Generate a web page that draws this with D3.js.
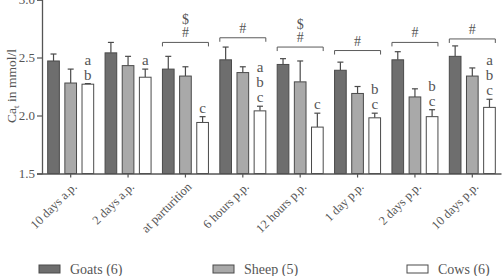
<!DOCTYPE html>
<html><head><meta charset="utf-8">
<script src="https://cdn.jsdelivr.net/npm/d3@7"></script>
<style>body{margin:0;background:#fff}svg{display:block}svg text{font-family:"Liberation Serif","Times New Roman","DejaVu Serif",serif}</style>
</head><body>
<svg id="c" width="503" height="276"></svg>
<script>
const categories = ["10 days a.p.","2 days a.p.","at parturition","6 hours p.p.","12 hours p.p.","1 day p.p.","2 days p.p.","10 days p.p."];
const seriesNames = ["Goats (6)","Sheep (5)","Cows (6)"];
const goats = [2.47,2.54,2.40,2.48,2.44,2.39,2.48,2.51];
const goatsSem = [0.06,0.09,0.11,0.11,0.05,0.07,0.07,0.09];
const sheep = [2.28,2.43,2.34,2.37,2.29,2.19,2.16,2.34];
const sheepSem = [0.12,0.08,0.08,0.05,0.18,0.06,0.07,0.07];
const cows = [2.27,2.33,1.94,2.04,1.90,1.98,1.99,2.07];
const cowsSem = [0.005,0.07,0.05,0.04,0.12,0.04,0.06,0.07];
const cowLetters = [["a","b"],["a"],["c"],["a","b","c"],["c"],["b","c"],["b","c"],["a","b","c"]];
const bracketLevel = [null,null,2.63,2.67,2.59,2.56,2.63,2.66];
const bracketMarks = [[],[],["$","#"],["#"],["$","#"],["#"],["#"],["#"]];
const yTicks = [1.5,2.0,2.5,3.0];

const svg = d3.select("#c");
const m = {l:42, r:2, t:0, b:103};
const W = 503, H = 276;
const x = d3.scaleBand().domain(categories).range([m.l, W - m.r]);
const y = d3.scaleLinear().domain([1.5,3.0]).range([173.5,-0.5]);
const inner = d3.scaleBand().domain([0,1,2]).range([-23, 23]).paddingInner(0.32).paddingOuter(0);
const fills = ["#6e6e6e","#a9a9a9","#ffffff"];
const stroke = "#4a4a4a";
const txt = "#555";
const font = "'Liberation Serif','Times New Roman',serif";

const series = [goats, sheep, cows];
const sems = [goatsSem, sheepSem, cowsSem];

const g = svg.append("g");
categories.forEach((c,i)=>{
  const cx = x(c) + x.bandwidth()/2;
  series.forEach((s,k)=>{
    const bx = cx + inner(k);
    const bw = inner.bandwidth();
    const top = y(s[i]);
    const et = y(s[i] + sems[k][i]);
    g.append("line").attr("x1",bx+bw/2).attr("x2",bx+bw/2).attr("y1",top).attr("y2",et).attr("stroke",stroke).attr("stroke-width",1.2);
    g.append("line").attr("x1",bx+bw/2-3).attr("x2",bx+bw/2+3).attr("y1",et).attr("y2",et).attr("stroke",stroke).attr("stroke-width",1.2);
    g.append("rect").attr("x",bx).attr("y",top).attr("width",bw).attr("height",y(1.5)-top)
      .attr("fill",fills[k]).attr("stroke",stroke).attr("stroke-width",1);
  });
  const cbx = cx + inner(2) + inner.bandwidth()/2;
  const cet = y(cows[i] + cowsSem[i]);
  const L = cowLetters[i];
  L.forEach((l,j)=>{
    const fromBottom = L.length-1-j;
    g.append("text").attr("x",cbx).attr("y",cet - 4 - fromBottom*15).attr("text-anchor","middle")
      .style("font-family",font).attr("font-size",15).attr("fill",txt).text(l);
  });
  if (bracketLevel[i] !== null) {
    const x0 = cx + inner(0), x1 = cx + inner(2) + inner.bandwidth();
    const by = y(bracketLevel[i]);
    g.append("path").attr("d",`M${x0},${by+4}V${by}H${x1}V${by+4}`).attr("fill","none").attr("stroke","#5a5a5a").attr("stroke-width",1);
    const mk = bracketMarks[i];
    mk.forEach((s,j)=>{
      const fromBottom = mk.length-1-j;
      g.append("text").attr("x",cx).attr("y",by - 5 - fromBottom*13.5).attr("text-anchor","middle")
        .style("font-family",font).attr("font-size",14).attr("fill",txt).text(s);
    });
  }
});

const ya = svg.append("g").attr("transform",`translate(${m.l},0)`)
  .call(d3.axisLeft(y).tickValues(yTicks).tickFormat(d3.format(".1f")).tickSize(5).tickPadding(2));
ya.attr("font-family",null);
ya.select(".domain").attr("stroke",txt).attr("stroke-width",1.3);
ya.selectAll(".tick line").attr("stroke",txt).attr("stroke-width",1.2);
ya.selectAll("text").style("font-family",font).attr("font-size",13).attr("fill",txt);

const xa = svg.append("g").attr("transform",`translate(0,${y(1.5)})`)
  .call(d3.axisBottom(x).tickSize(4).tickSizeOuter(0));
xa.attr("font-family",null);
xa.select(".domain").attr("stroke",txt).attr("stroke-width",1.3);
xa.selectAll(".tick line").attr("stroke",txt).attr("stroke-width",1.2);
xa.selectAll("text").style("font-family",font).attr("font-size",12.5).attr("fill",txt)
  .attr("text-anchor","end").attr("dy",null).attr("y",0)
  .attr("transform","translate(7,14) rotate(-45)");

const yl = svg.append("text").attr("transform","translate(16,86) rotate(-90)").attr("text-anchor","middle")
  .style("font-family",font).attr("font-size",13.5).attr("fill",txt);
yl.append("tspan").text("Ca");
yl.append("tspan").attr("font-size",9).attr("dy",3).text("t");
yl.append("tspan").attr("dy",-3).text(" in mmol/l");

const legX = [39,213,407];
seriesNames.forEach((n,k)=>{
  svg.append("rect").attr("x",legX[k]).attr("y",265).attr("width",21).attr("height",8)
    .attr("fill",fills[k]).attr("stroke",stroke).attr("stroke-width",1);
  svg.append("text").attr("x",legX[k]+31).attr("y",273.5).style("font-family",font).attr("font-size",14)
    .attr("fill",txt).text(n);
});
</script>
</body></html>
